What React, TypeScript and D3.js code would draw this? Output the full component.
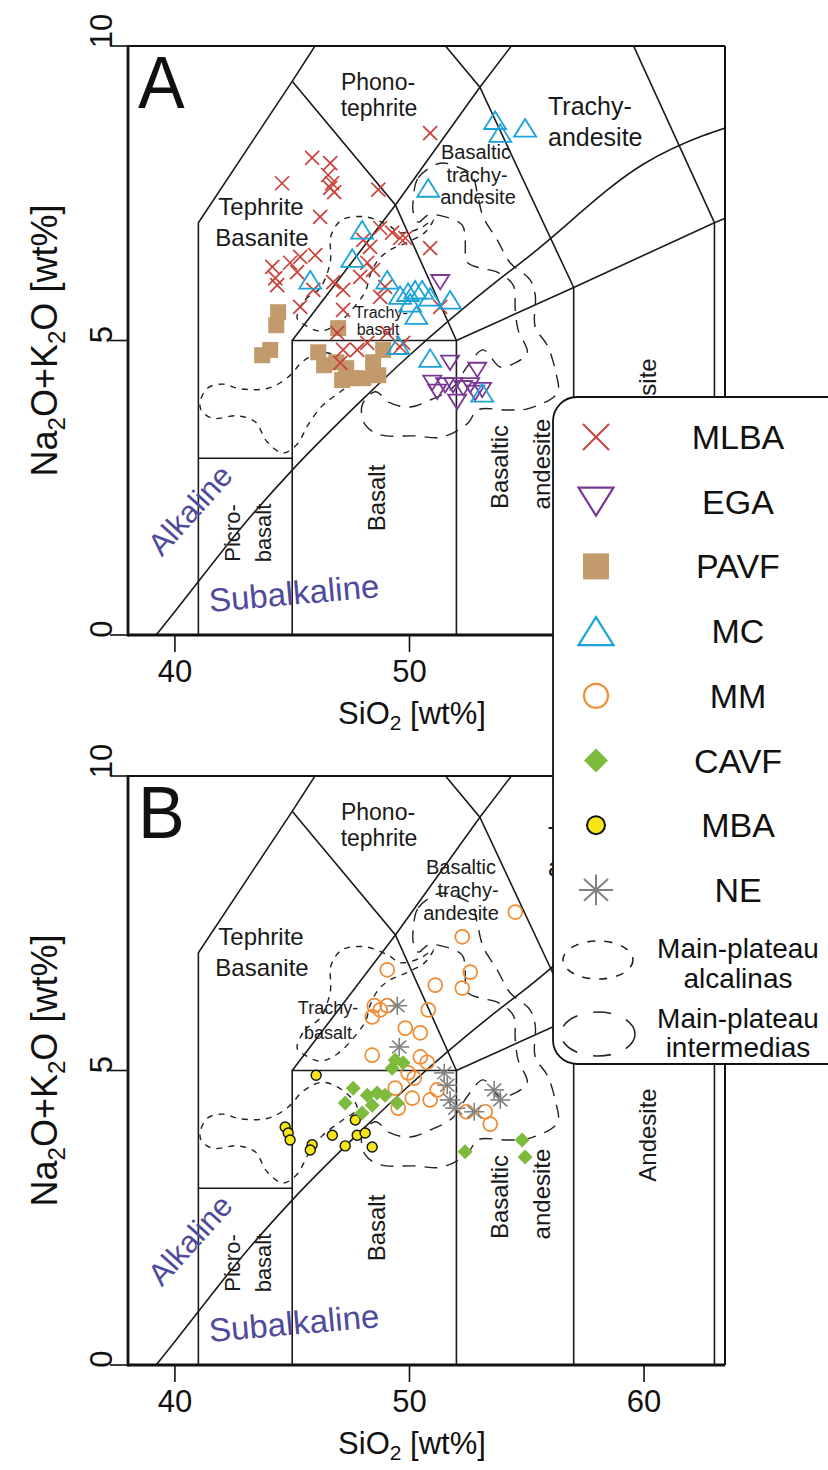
import React from "react";
import * as d3 from "d3";

type Pt = [number, number];

const WIDTH = 828;
const HEIGHT = 1470;
const FONT = "'Liberation Sans', Arial, Helvetica, sans-serif";

// Axis ticks
const xTicks = [40, 50, 60];
const yTicks = [0, 5, 10];

// TAS classification boundaries [SiO2, Na2O+K2O] (Le Bas et al., 1986)
const tasBoundaries: Pt[][] = [
  [[41, 0], [41, 7], [45, 9.4], [48.4, 11.5]],
  [[41, 3], [45, 3]],
  [[45, 0], [45, 5], [52, 5], [52, 0]],
  [[57, 0], [57, 5.9]],
  [[63, 0], [63, 7]],
  [[52, 5], [57, 5.9], [63, 7], [69, 8]],
  [[45, 5], [49.4, 7.3], [53, 9.3], [57.6, 11.7]],
  [[45, 9.4], [49.4, 7.3], [52, 5]],
  [[48.4, 11.5], [53, 9.3], [57, 5.9]],
  [[57.6, 11.7], [63, 7]],
];

// Alkaline / subalkaline divide (Irvine & Baragar, 1971)
const alkalineDivide: Pt[] = [
  [39.2, 0], [40, 0.4], [43.2, 2], [45, 2.8], [48, 4], [50, 4.75],
  [53.7, 6], [55, 6.4], [60, 8], [65, 8.8],
];

// Main-plateau reference fields
const alcalinasWest: Pt[] = [
  [41.08, 3.96], [41.38, 4.19], [42.02, 4.26], [42.78, 4.18], [43.98, 4.19],
  [44.83, 4.38], [45.47, 4.65], [46.28, 4.8], [47.13, 4.67], [47.77, 4.36],
  [47.05, 4.13], [46.28, 3.89], [45.68, 3.57], [45.21, 3.24], [44.62, 3.09],
  [43.93, 3.28], [43.42, 3.62], [42.66, 3.72], [41.59, 3.68], [41.12, 3.82],
];
const alcalinasTrachy: Pt[] = [
  [45.21, 5.38], [45.55, 5.69], [46.19, 5.89], [46.62, 6.33], [46.66, 6.79],
  [47.13, 7.05], [48.11, 7.1], [49.09, 6.96], [49.6, 6.83], [50.46, 6.91],
  [51.01, 7.05], [50.67, 6.84], [49.94, 6.67], [49.18, 6.54], [48.67, 6.37],
  [48.32, 6.11], [48.15, 5.86], [47.81, 5.65], [46.92, 5.28], [46.19, 5.16],
  [45.55, 5.26],
];
const intermedias: Pt[] = [
  [50.16, 7.39], [50.37, 7.76], [51.31, 8.01], [52.03, 7.95], [52.67, 7.81],
  [52.89, 7.5], [53.14, 7.1], [53.74, 6.71], [54.29, 6.32], [55.14, 6.03],
  [55.36, 5.77], [55.36, 5.23], [55.87, 4.92], [56.21, 4.5], [56.3, 4.11],
  [55.02, 3.84], [54.16, 3.82], [52.89, 3.82], [52.5, 3.6], [51.39, 3.36],
  [50.24, 3.38], [48.75, 3.4], [48.11, 3.57], [47.98, 3.9], [48.54, 4.13],
  [49.18, 3.94], [50.03, 3.87], [50.88, 3.99], [51.82, 4.19], [52.5, 4.58],
  [53.14, 4.84], [53.87, 4.55], [54.51, 4.62], [55.02, 4.79], [54.63, 5.18],
  [54.51, 5.52], [54.42, 5.94], [53.74, 6.16], [53.01, 6.23], [52.46, 6.33],
  [52.37, 6.71], [52.25, 6.96], [51.52, 7.1], [50.8, 7.13], [50.37, 7.01],
  [50.16, 7.18],
];

// Samples, panel A
const mlba: Pt[] = [
  [50.88, 8.52], [44.57, 7.67], [45.85, 8.1], [46.62, 8.01], [46.53, 7.81], [46.7, 7.67],
  [46.62, 7.59], [46.79, 7.52], [48.67, 7.56], [46.19, 7.1], [48.75, 6.91], [49.26, 6.83],
  [49.6, 6.74], [50.88, 6.57], [49.82, 6.74], [44.15, 6.25], [44.28, 6.06], [44.36, 5.94],
  [44.91, 6.32], [45.34, 6.42], [45.98, 6.45], [45.21, 6.16], [45.9, 5.86], [45.34, 5.57],
  [46.75, 5.99], [47.17, 5.86], [47.9, 6.08], [48.32, 6.59], [48.2, 6.32], [48.45, 6.2],
  [48.03, 6.71], [48.75, 5.74], [48.96, 5.91], [47.17, 5.52], [46.92, 5.13], [47.17, 4.84],
  [47.77, 4.84], [48.2, 4.96], [49.05, 5.13], [49.6, 4.89], [47.05, 4.62], [51.31, 5.57],
  [49.73, 4.96],
];
const ega: Pt[] = [
  [51.31, 5.99], [51.73, 4.62], [52.89, 4.5], [50.97, 4.28], [51.18, 4.13], [51.52, 4.24],
  [51.86, 4.24], [52.03, 3.96], [52.29, 4.19], [52.59, 4.24], [52.8, 4.11], [53.1, 4.16],
];
const pavf: Pt[] = [
  [44.4, 5.48], [44.32, 5.26], [43.72, 4.75], [44.06, 4.84], [46.96, 5.21], [46.11, 4.8],
  [46.36, 4.58], [46.88, 4.63], [47.13, 4.33], [47.56, 4.36], [48.03, 4.36], [48.67, 4.41],
  [48.88, 4.84], [48.45, 4.63], [47.3, 4.53],
];
const mc: Pt[] = [
  [53.65, 8.74], [54.93, 8.61], [53.87, 8.52], [50.8, 7.59], [47.98, 6.88], [47.56, 6.4],
  [45.77, 6.03], [49.05, 6.03], [49.6, 5.77], [49.94, 5.82], [50.24, 5.86], [50.54, 5.86],
  [50.88, 5.74], [50.03, 5.64], [50.29, 5.43], [51.73, 5.69], [49.52, 4.92], [50.88, 4.7],
  [53.1, 4.11],
];

// Samples, panel B
const mm: Pt[] = [
  [54.51, 7.69], [52.25, 7.27], [49.05, 6.71], [52.59, 6.67], [51.1, 6.45], [52.25, 6.4],
  [48.5, 6.1], [48.75, 6.03], [48.41, 5.91], [49.05, 6.1], [50.8, 6.03], [49.82, 5.72],
  [50.46, 5.64], [48.41, 5.26], [50.46, 5.23], [50.75, 5.14], [49.94, 4.96], [50.2, 4.87],
  [51.18, 4.67], [50.88, 4.5], [50.12, 4.53], [49.52, 4.36], [52.42, 4.3], [53.23, 4.3],
  [53.44, 4.09], [49.39, 4.7],
];
const cavf: Pt[] = [
  [47.6, 4.7], [48.2, 4.58], [47.26, 4.45], [48.41, 4.41], [47.98, 4.28], [49.39, 5.18],
  [49.73, 5.13], [49.26, 5.04], [48.62, 4.62], [48.96, 4.58], [49.48, 4.45], [52.37, 3.62],
  [54.8, 3.82], [54.93, 3.53],
];
const mba: Pt[] = [
  [46.02, 4.92], [44.7, 4.04], [44.83, 3.94], [44.91, 3.82], [46.71, 3.9], [45.85, 3.74],
  [45.77, 3.65], [48.41, 3.7], [47.69, 4.16], [47.77, 3.9], [48.11, 3.94], [47.26, 3.72],
];
const ne: Pt[] = [
  [49.48, 6.1], [49.56, 5.4], [51.48, 4.96], [51.61, 4.75], [51.73, 4.5], [51.95, 4.36],
  [52.76, 4.3], [53.61, 4.67], [53.87, 4.5],
];

type Kind = "cross" | "triDown" | "square" | "triUp" | "circle" | "diamond" | "dot" | "star";

const COLORS: Record<Kind, string> = {
  cross: "#c8413a",
  triDown: "#7a3794",
  square: "#c39a6c",
  triUp: "#1ca3d8",
  circle: "#ef8c34",
  diamond: "#7dbb3d",
  dot: "#f6e619",
  star: "#818181",
};

const legendItems: { name: string; kind: Kind }[] = [
  { name: "MLBA", kind: "cross" },
  { name: "EGA", kind: "triDown" },
  { name: "PAVF", kind: "square" },
  { name: "MC", kind: "triUp" },
  { name: "MM", kind: "circle" },
  { name: "CAVF", kind: "diamond" },
  { name: "MBA", kind: "dot" },
  { name: "NE", kind: "star" },
];

const panelASeries: { data: Pt[]; kind: Kind }[] = [
  { data: pavf, kind: "square" },
  { data: mlba, kind: "cross" },
  { data: ega, kind: "triDown" },
  { data: mc, kind: "triUp" },
];
const panelBSeries: { data: Pt[]; kind: Kind }[] = [
  { data: mba, kind: "dot" },
  { data: mm, kind: "circle" },
  { data: cavf, kind: "diamond" },
  { data: ne, kind: "star" },
];

type Size = { r: number; sw: number };
const plotSize: Record<Kind, Size> = {
  cross: { r: 7, sw: 1.7 },
  triDown: { r: 9, sw: 1.8 },
  square: { r: 8, sw: 0 },
  triUp: { r: 11, sw: 1.8 },
  circle: { r: 7, sw: 1.7 },
  diamond: { r: 7.5, sw: 0 },
  dot: { r: 5, sw: 1.4 },
  star: { r: 10, sw: 1.6 },
};
const legendSize: Record<Kind, Size> = {
  cross: { r: 13, sw: 2 },
  triDown: { r: 17.5, sw: 2.2 },
  square: { r: 13, sw: 0 },
  triUp: { r: 17.5, sw: 2.2 },
  circle: { r: 12, sw: 2.2 },
  diamond: { r: 12, sw: 0 },
  dot: { r: 9, sw: 2 },
  star: { r: 17, sw: 2 },
};

function Mark({ kind, cx, cy, size }: { kind: Kind; cx: number; cy: number; size: Size }) {
  const c = COLORS[kind];
  const { r, sw } = size;
  switch (kind) {
    case "cross":
      return (
        <g stroke={c} strokeWidth={sw}>
          <line x1={cx - r} y1={cy - r} x2={cx + r} y2={cy + r} />
          <line x1={cx - r} y1={cy + r} x2={cx + r} y2={cy - r} />
        </g>
      );
    case "triDown": {
      const h = r * 0.8;
      return (
        <path
          d={`M${cx - r},${cy - h}L${cx + r},${cy - h}L${cx},${cy + h}Z`}
          fill="none" stroke={c} strokeWidth={sw} strokeLinejoin="miter"
        />
      );
    }
    case "triUp": {
      const h = r * 0.8;
      return (
        <path
          d={`M${cx - r},${cy + h}L${cx + r},${cy + h}L${cx},${cy - h}Z`}
          fill="none" stroke={c} strokeWidth={sw}
        />
      );
    }
    case "square":
      return <rect x={cx - r} y={cy - r} width={2 * r} height={2 * r} fill={c} />;
    case "circle":
      return <circle cx={cx} cy={cy} r={r} fill="none" stroke={c} strokeWidth={sw} />;
    case "diamond":
      return <path d={`M${cx},${cy - r}L${cx + r},${cy}L${cx},${cy + r}L${cx - r},${cy}Z`} fill={c} />;
    case "dot":
      return <circle cx={cx} cy={cy} r={r} fill={c} stroke="#111" strokeWidth={sw} />;
    case "star": {
      const lines = [0, 45, 90, 135].map((a) => {
        const t = (a * Math.PI) / 180;
        const dx = r * Math.cos(t);
        const dy = r * 0.9 * Math.sin(t);
        return <line key={a} x1={cx - dx} y1={cy - dy} x2={cx + dx} y2={cy + dy} />;
      });
      return <g stroke={c} strokeWidth={sw}>{lines}</g>;
    }
  }
}

type Label = {
  t: string;
  x: number;
  y: number;
  fs: number;
  rot?: number;
  anchor?: "start" | "middle" | "end";
};

// Field names, positioned in panel-A pixel space (shifted for panel B)
const commonLabels: Label[] = [
  { t: "Phono-", x: 378, y: 90, fs: 23 },
  { t: "tephrite", x: 379, y: 116, fs: 23 },
  { t: "Tephrite", x: 261, y: 215, fs: 24 },
  { t: "Basanite", x: 262, y: 246, fs: 24 },
  { t: "Trachy-", x: 548, y: 115, fs: 25, anchor: "start" },
  { t: "andesite", x: 548, y: 146, fs: 25, anchor: "start" },
  { t: "Picro-", x: 240, y: 533, fs: 22, rot: -90 },
  { t: "basalt", x: 271, y: 533, fs: 22, rot: -90 },
  { t: "Basalt", x: 385, y: 498, fs: 24, rot: -90 },
  { t: "Basaltic", x: 508, y: 467, fs: 24, rot: -90 },
  { t: "andesite", x: 550, y: 464, fs: 24, rot: -90 },
  { t: "Andesite", x: 656, y: 405, fs: 24, rot: -90 },
];
const labelsA: Label[] = [
  ...commonLabels,
  { t: "Basaltic", x: 476, y: 159, fs: 20 },
  { t: "trachy-", x: 477, y: 182, fs: 20 },
  { t: "andesite", x: 478, y: 204, fs: 20 },
  { t: "Trachy-", x: 381, y: 318, fs: 16 },
  { t: "basalt", x: 378, y: 335, fs: 16 },
];
const labelsB: Label[] = [
  ...commonLabels,
  { t: "Basaltic", x: 461, y: 144, fs: 20 },
  { t: "trachy-", x: 468, y: 167, fs: 20 },
  { t: "andesite", x: 461, y: 190, fs: 20 },
  { t: "Trachy-", x: 328, y: 284, fs: 18 },
  { t: "basalt", x: 328, y: 309, fs: 18 },
];

const SERIES_TEXT = "#4f4a9c";

const PLOT_LEFT = 128;
const PLOT_RIGHT = 725;
const PLOT_H = 589;

const x = d3.scaleLinear().domain([38, 63.45]).range([PLOT_LEFT, PLOT_RIGHT]);

function Panel({
  id, top, letter, series, labels,
}: {
  id: string; top: number; letter: string;
  series: { data: Pt[]; kind: Kind }[]; labels: Label[];
}) {
  const y = d3.scaleLinear().domain([0, 10]).range([top + PLOT_H, top]);
  const bottom = top + PLOT_H;
  const shift = top - 46;
  const line = d3.line<Pt>().x((d) => x(d[0])).y((d) => y(d[1]));
  const smooth = d3.line<Pt>().x((d) => x(d[0])).y((d) => y(d[1])).curve(d3.curveMonotoneX);
  const field = d3.line<Pt>().x((d) => x(d[0])).y((d) => y(d[1])).curve(d3.curveCatmullRomClosed.alpha(0.5));
  const clip = `clip-${id}`;

  return (
    <g>
      <defs>
        <clipPath id={clip}>
          <rect x={PLOT_LEFT} y={top} width={PLOT_RIGHT - PLOT_LEFT} height={PLOT_H} />
        </clipPath>
      </defs>
      <g clipPath={`url(#${clip})`}>
        {tasBoundaries.map((b, i) => (
          <path key={i} d={line(b) || ""} fill="none" stroke="#1a1a1a" strokeWidth={1.6} />
        ))}
        <path d={smooth(alkalineDivide) || ""} fill="none" stroke="#1a1a1a" strokeWidth={1.6} />
        <path d={field(alcalinasWest) || ""} fill="none" stroke="#222" strokeWidth={1.4} strokeDasharray="6 6" />
        <path d={field(alcalinasTrachy) || ""} fill="none" stroke="#222" strokeWidth={1.4} strokeDasharray="6 6" />
        <path d={field(intermedias) || ""} fill="none" stroke="#222" strokeWidth={1.4} strokeDasharray="13 9" />
      </g>

      {labels.map((l, i) => (
        <text
          key={i}
          transform={`translate(${l.x},${l.y + shift})${l.rot ? ` rotate(${l.rot})` : ""}`}
          textAnchor={l.anchor || "middle"}
          fontSize={l.fs}
          fontFamily={FONT}
          fill="#1a1a1a"
        >
          {l.t}
        </text>
      ))}
      <text transform={`translate(190,${510 + shift}) rotate(-48)`} textAnchor="middle" dy="0.35em"
        fontSize={31} fontFamily={FONT} fill={SERIES_TEXT}>Alkaline</text>
      <text transform={`translate(294,${593 + shift}) rotate(-5)`} textAnchor="middle" dy="0.35em"
        fontSize={33} fontFamily={FONT} fill={SERIES_TEXT}>Subalkaline</text>

      <text x={138} y={top + 62} fontSize={70} fontFamily={FONT} fill="#111"
        transform={`translate(0,${-(top + 62) * 0.06}) scale(1,1.06)`}>{letter}</text>

      <g clipPath={`url(#${clip})`}>
        {series.map((s, si) => (
          <g key={si}>
            {s.data.map((d, i) => (
              <Mark key={i} kind={s.kind} cx={x(d[0])} cy={y(d[1])} size={plotSize[s.kind]} />
            ))}
          </g>
        ))}
      </g>

      {/* frame */}
      <line x1={PLOT_LEFT} y1={top} x2={PLOT_RIGHT} y2={top} stroke="#111" strokeWidth={2} />
      <line x1={PLOT_RIGHT} y1={top} x2={PLOT_RIGHT} y2={bottom} stroke="#111" strokeWidth={2} />
      <line x1={PLOT_LEFT} y1={top - 1} x2={PLOT_LEFT} y2={bottom + 1.4} stroke="#111" strokeWidth={2.8} />
      <line x1={PLOT_LEFT} y1={bottom} x2={PLOT_RIGHT} y2={bottom} stroke="#111" strokeWidth={2.8} />

      {/* y axis */}
      {yTicks.map((t) => (
        <g key={t}>
          <line x1={PLOT_LEFT - 18} y1={y(t)} x2={PLOT_LEFT} y2={y(t)} stroke="#111" strokeWidth={1.6} />
          <text transform={`translate(112,${y(t) - (t === 10 ? 15 : 6)}) rotate(-90)`} textAnchor="middle"
            fontSize={31} fontFamily={FONT} fill="#111">{t}</text>
        </g>
      ))}
      <text transform={`translate(57,${top + PLOT_H / 2}) rotate(-90)`} textAnchor="middle"
        fontSize={36} fontFamily={FONT} fill="#111">
        Na<tspan fontSize={24} dy={8}>2</tspan><tspan dy={-8}>O+K</tspan>
        <tspan fontSize={24} dy={8}>2</tspan><tspan dy={-8}>O [wt%]</tspan>
      </text>

      {/* x axis */}
      {xTicks.map((t) => (
        <g key={t}>
          <line x1={x(t)} y1={bottom} x2={x(t)} y2={bottom + 17} stroke="#111" strokeWidth={1.6} />
          <text x={x(t)} y={bottom + 47} textAnchor="middle" fontSize={31} fontFamily={FONT} fill="#111">{t}</text>
        </g>
      ))}
      <text x={412} y={bottom + 89} textAnchor="middle" fontSize={31} fontFamily={FONT} fill="#111">
        SiO<tspan fontSize={21} dy={6}>2</tspan><tspan dy={-6}> [wt%]</tspan>
      </text>
    </g>
  );
}

function Legend() {
  const left = 553;
  const topY = 397;
  const bottomY = 1064;
  const markX = 596;
  const textX = 738;
  const rowY = (i: number) => 437 + i * 64.7;
  return (
    <g>
      <rect x={left} y={topY} width={320} height={bottomY - topY} rx={24} ry={24}
        fill="#fff" stroke="#111" strokeWidth={1.8} />
      {legendItems.map((it, i) => (
        <g key={it.name}>
          <Mark kind={it.kind} cx={markX} cy={rowY(i)} size={legendSize[it.kind]} />
          <text x={textX} y={rowY(i) + 12} textAnchor="middle" fontSize={34} fontFamily={FONT} fill="#111">
            {it.name}
          </text>
        </g>
      ))}
      <ellipse cx={598} cy={960} rx={35} ry={19} fill="none" stroke="#222" strokeWidth={1.6} strokeDasharray="8 9" />
      <text x={textX} y={958} textAnchor="middle" fontSize={28} fontFamily={FONT} fill="#111">Main-plateau</text>
      <text x={textX} y={988} textAnchor="middle" fontSize={28} fontFamily={FONT} fill="#111">alcalinas</text>
      <ellipse cx={598} cy={1034} rx={37} ry={22} fill="none" stroke="#222" strokeWidth={1.6} strokeDasharray="18 16" />
      <text x={textX} y={1028} textAnchor="middle" fontSize={28} fontFamily={FONT} fill="#111">Main-plateau</text>
      <text x={textX} y={1057} textAnchor="middle" fontSize={28} fontFamily={FONT} fill="#111">intermedias</text>
    </g>
  );
}

export default function App() {
  return (
    <div style={{ position: "absolute", left: 0, top: 0 }}>
      <svg width={WIDTH} height={HEIGHT} viewBox={`0 0 ${WIDTH} ${HEIGHT}`} style={{ display: "block", background: "#fff" }}>
        <rect width={WIDTH} height={HEIGHT} fill="#fff" />
        <Panel id="a" top={46} letter="A" series={panelASeries} labels={labelsA} />
        <Panel id="b" top={776} letter="B" series={panelBSeries} labels={labelsB} />
        <Legend />
      </svg>
    </div>
  );
}
